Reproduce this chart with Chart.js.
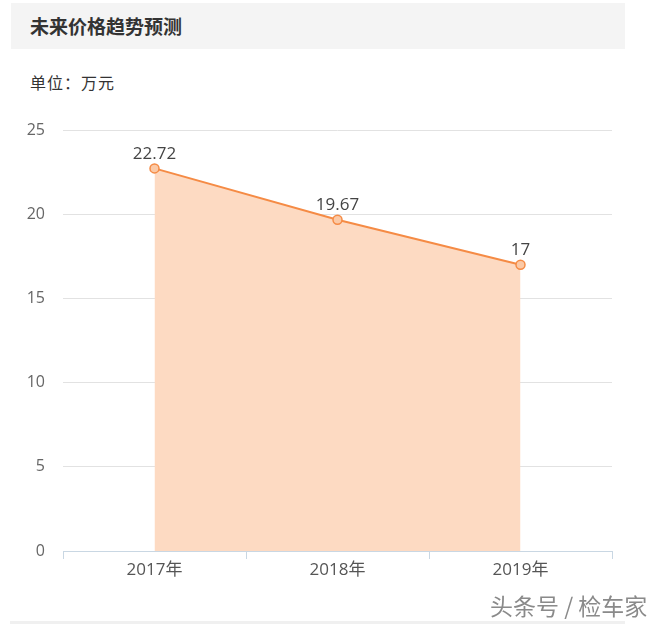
<!DOCTYPE html>
<html>
<head>
<meta charset="utf-8">
<script src="https://cdn.jsdelivr.net/npm/chart.js@4/dist/chart.umd.min.js"></script>
<style>
  html, body { margin: 0; padding: 0; background: #fff; }
  body { width: 670px; height: 626px; position: relative; overflow: hidden;
         font-family: "Open Sans", "Noto Sans CJK SC", sans-serif; }
  .head { position: absolute; left: 11px; top: 3px; width: 614px; height: 46px; background: #f4f4f4; }
  .head span { position: absolute; left: 19px; top: 9px; font-size: 19px; font-weight: bold; color: #333;
               font-family: "Noto Sans CJK SC", sans-serif; }
  .unit { position: absolute; left: 30px; top: 70px; font-size: 16px; color: #333; letter-spacing: 1px;
          font-family: "Noto Sans CJK SC", sans-serif; }
  .mark { position: absolute; left: 490px; top: 588px; font-size: 23px; color: #8a8a8a;
          font-family: "Noto Sans CJK SC", sans-serif; }
  .foot { position: absolute; left: 10px; top: 621px; width: 615px; height: 3px; background: #f0f0f0; }
  #wrap { position: absolute; left: 0; top: 0; width: 670px; height: 626px; }
</style>
</head>
<body>
<div class="head"><span>未来价格趋势预测</span></div>
<div class="unit">单位：万元</div>
<div id="wrap"><canvas id="c"></canvas></div>
<div class="mark">头条号 / 检车家</div>
<div class="foot"></div>
<script>
const YEARS = ["2017年", "2018年", "2019年"];
const PRICES = [22.72, 19.67, 17];
const Y_TICKS = [0, 5, 10, 15, 20, 25];

// value labels above each point
const pointLabels = {
  id: "pointLabels",
  afterDatasetsDraw(chart) {
    const { ctx } = chart;
    const meta = chart.getDatasetMeta(0);
    ctx.save();
    ctx.font = '17px "Open Sans", sans-serif';
    ctx.fillStyle = "#444";
    ctx.textAlign = "center";
    ctx.textBaseline = "bottom";
    meta.data.forEach((pt, i) => {
      ctx.fillText(String(PRICES[i]), pt.x, pt.y - 6);
    });
    ctx.restore();
  },
};

new Chart(document.getElementById("c"), {
  type: "line",
  data: {
    labels: YEARS,
    datasets: [{
      data: PRICES,
      borderColor: "#f58b45",
      borderWidth: 2,
      backgroundColor: "#fddac2",
      fill: "origin",
      tension: 0,
      pointRadius: 4.5,
      pointBackgroundColor: "#fbc9a6",
      pointBorderColor: "#f58b45",
      pointBorderWidth: 1.5,
    }],
  },
  options: {
    responsive: true,
    maintainAspectRatio: false,
    animation: false,
    layout: { padding: { top: 130, right: 58, bottom: 35, left: 0 } },
    plugins: { legend: { display: false }, tooltip: { enabled: false } },
    scales: {
      x: {
        offset: true,
        grid: { offset: true, drawOnChartArea: false, drawTicks: true, tickLength: 8, color: "#c9d7e3" },
        border: { color: "#c9d7e3" },
        ticks: { color: "#555", font: { family: '"Open Sans", "Noto Sans CJK SC"', size: 17 }, padding: 1 },
        afterFit: (s) => { s.height = 40; },
      },
      y: {
        min: 0,
        max: 25,
        afterBuildTicks: (s) => { s.ticks = Y_TICKS.map((v) => ({ value: v })); },
        grid: { color: "#e2e2e2", drawTicks: false },
        border: { display: false },
        ticks: { color: "#666", font: { family: '"Open Sans"', size: 16 }, padding: 18 },
        afterFit: (s) => { s.width = 63; },
      },
    },
  },
  plugins: [pointLabels],
});
</script>
</body>
</html>
